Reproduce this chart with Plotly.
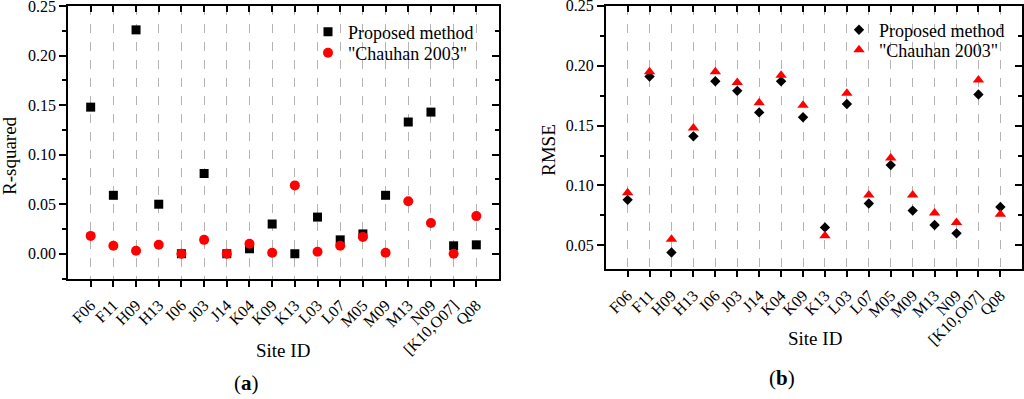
import plotly.graph_objects as go

sites = ["F06", "F11", "H09", "H13", "I06", "J03", "J14", "K04", "K09", "K13",
         "L03", "L07", "M05", "M09", "M13", "N09", "[K10,O07]", "Q08"]

r2_proposed = [0.148, 0.059, 0.226, 0.050, 0.000, 0.081, 0.000, 0.005, 0.030, 0.000,
               0.037, 0.014, 0.020, 0.059, 0.133, 0.143, 0.008, 0.009]
r2_chauhan = [0.018, 0.008, 0.003, 0.009, 0.000, 0.014, 0.000, 0.010, 0.001, 0.069,
              0.002, 0.008, 0.017, 0.001, 0.053, 0.031, 0.000, 0.038]

rmse_proposed = [0.088, 0.191, 0.044, 0.141, 0.187, 0.179, 0.161, 0.187, 0.157, 0.065,
                 0.168, 0.085, 0.117, 0.079, 0.067, 0.060, 0.176, 0.082]
rmse_chauhan = [0.094, 0.195, 0.055, 0.148, 0.195, 0.186, 0.169, 0.192, 0.167, 0.058,
                0.177, 0.092, 0.123, 0.092, 0.077, 0.069, 0.188, 0.076]

legend_names = ["Proposed method", "\"Chauhan 2003\""]

FONT = "Liberation Serif"
W, H = 1024, 399

def px(x):
    return x / W

def py(y):
    return 1 - y / H

fig = go.Figure()

# Panel (a)
fig.add_trace(go.Scatter(x=sites, y=r2_proposed, mode="markers", name=legend_names[0],
                         marker=dict(symbol="square", size=9, color="black"),
                         xaxis="x", yaxis="y", legend="legend"))
fig.add_trace(go.Scatter(x=sites, y=r2_chauhan, mode="markers", name=legend_names[1],
                         marker=dict(symbol="circle", size=10, color="red"),
                         xaxis="x", yaxis="y", legend="legend2"))
# Panel (b)
fig.add_trace(go.Scatter(x=sites, y=rmse_proposed, mode="markers", name=legend_names[0],
                         marker=dict(symbol="diamond", size=8, color="black"),
                         xaxis="x2", yaxis="y2", legend="legend3"))
fig.add_trace(go.Scatter(x=sites, y=rmse_chauhan, mode="markers", name=legend_names[1],
                         marker=dict(symbol="triangle-up", size=10, color="red"),
                         xaxis="x2", yaxis="y2", legend="legend4"))
# invisible copies so that the mirrored inward-tick (top/right) axes are drawn
fig.add_trace(go.Scatter(x=sites, y=r2_proposed, mode="markers", xaxis="x3", yaxis="y3",
                         marker=dict(opacity=0), showlegend=False, hoverinfo="skip"))
fig.add_trace(go.Scatter(x=sites, y=rmse_proposed, mode="markers", xaxis="x4", yaxis="y4",
                         marker=dict(opacity=0), showlegend=False, hoverinfo="skip"))

n = len(sites)
tickfont = dict(family=FONT, size=16, color="black")

common_x = dict(type="category", range=[-1, n], showline=True, linecolor="black",
                linewidth=1.5, mirror=True, ticks="outside", ticklen=6, tickwidth=1.5,
                tickcolor="black", tickangle=-45, tickfont=tickfont, ticklabelstandoff=3,
                showgrid=True, gridcolor="#b4b4b4", griddash="dash", gridwidth=1,
                zeroline=False, categoryorder="array", categoryarray=sites,
                automargin=False)
common_y = dict(showline=True, linecolor="black", linewidth=1.5, mirror=True,
                ticks="outside", ticklen=7, tickwidth=1.5, tickcolor="black",
                dtick=0.05, tick0=0, tickformat=".2f", tickfont=tickfont,
                ticklabeloverflow="allow",
                minor=dict(ticks="outside", ticklen=4, tickwidth=1.5, tickcolor="black",
                           dtick=0.025, showgrid=False),
                showgrid=False, zeroline=False, automargin=False)

top_x = dict(type="category", range=[-1, n], categoryorder="array", categoryarray=sites,
             ticks="inside", ticklen=6, tickwidth=1.5, tickcolor="black",
             showticklabels=False, showgrid=False, showline=False, zeroline=False,
             side="top", automargin=False)
right_y = dict(ticks="inside", ticklen=7, tickwidth=1.5, tickcolor="black",
               dtick=0.05, tick0=0, showticklabels=False, showgrid=False, showline=False,
               zeroline=False, side="right", automargin=False,
               minor=dict(ticks="inside", ticklen=4, tickwidth=1.5, tickcolor="black",
                          dtick=0.025, showgrid=False))

ya_range = [-0.0255, 0.2501]
yb_range = [0.03, 0.2501]

xa_dom = [px(68), px(499)]
ya_dom = [py(279), py(6)]
xb_dom = [px(605.7), px(1022.3)]
yb_dom = [py(269.3), py(5.7)]

leg_font = dict(family=FONT, size=18, color="black")

def leg(xp, yp):
    return dict(x=px(xp), y=py(yp), xanchor="left", yanchor="middle",
                bgcolor="rgba(0,0,0,0)", font=leg_font, borderwidth=0)

fig.update_layout(
    width=W, height=H,
    margin=dict(l=0, r=0, t=0, b=0, autoexpand=False),
    paper_bgcolor="white", plot_bgcolor="white",
    font=dict(family=FONT, color="black"),
    xaxis=dict(domain=xa_dom, anchor="y", **common_x),
    yaxis=dict(domain=ya_dom, anchor="x", range=ya_range, **common_y),
    xaxis2=dict(domain=xb_dom, anchor="y2", **common_x),
    yaxis2=dict(domain=yb_dom, anchor="x2", range=yb_range, **common_y),
    xaxis3=dict(overlaying="x", anchor="y3", domain=xa_dom, **top_x),
    yaxis3=dict(overlaying="y", anchor="x3", domain=ya_dom, range=ya_range, **right_y),
    xaxis4=dict(overlaying="x2", anchor="y4", domain=xb_dom, **top_x),
    yaxis4=dict(overlaying="y2", anchor="x4", domain=yb_dom, range=yb_range, **right_y),
    legend=leg(308, 32),
    legend2=leg(308, 53),
    legend3=leg(839, 30),
    legend4=leg(839, 50),
    showlegend=True,
)

ann_font = dict(family=FONT, size=19, color="black")
fig.add_annotation(text="Site ID", x=px(283), y=py(350), xref="paper", yref="paper",
                   showarrow=False, font=ann_font, xanchor="center", yanchor="middle")
fig.add_annotation(text="Site ID", x=px(815), y=py(338), xref="paper", yref="paper",
                   showarrow=False, font=ann_font, xanchor="center", yanchor="middle")
fig.add_annotation(text="R-squared", x=px(9), y=py(156), xref="paper", yref="paper",
                   showarrow=False, font=ann_font, textangle=-90,
                   xanchor="center", yanchor="middle")
fig.add_annotation(text="RMSE", x=px(548), y=py(150), xref="paper", yref="paper",
                   showarrow=False, font=ann_font, textangle=-90,
                   xanchor="center", yanchor="middle")
lab_font = dict(family=FONT, size=21, color="black")
fig.add_annotation(text="(<b>a</b>)", x=px(246), y=py(383), xref="paper", yref="paper",
                   showarrow=False, font=lab_font, xanchor="center", yanchor="middle")
fig.add_annotation(text="(<b>b</b>)", x=px(782), y=py(378), xref="paper", yref="paper",
                   showarrow=False, font=lab_font, xanchor="center", yanchor="middle")

fig.write_html("out.html", config={"displayModeBar": False},
               post_script="document.body.style.margin='0';document.body.style.overflow='hidden';")
